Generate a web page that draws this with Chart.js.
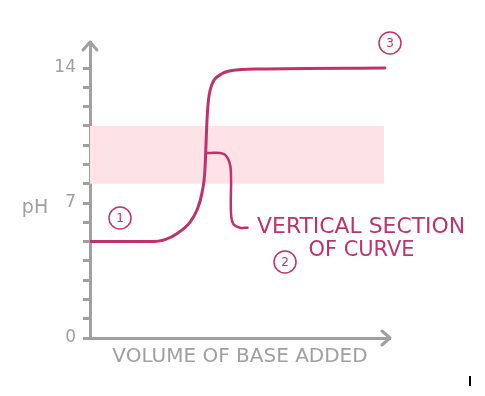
<!DOCTYPE html>
<html>
<head>
<meta charset="utf-8">
<script src="https://cdn.jsdelivr.net/npm/chart.js@4.4.1/dist/chart.umd.min.js"></script>
<style>
  html, body { margin: 0; padding: 0; background: #fff; }
  #wrap { width: 485px; height: 396px; }
</style>
</head>
<body>
<div id="wrap"><canvas id="chart" width="485" height="396"></canvas></div>
<script>
// titration curve (volume in arbitrary units 0-100, pH 0-14)
const curveVolume = [0, 20, 25, 29.3, 33.3, 35.7, 37.3, 38.3, 39, 39.5, 40.7, 43.3, 47.3, 56.7, 98.3];
const curvePH     = [5, 5, 5.1, 5.45, 6, 6.65, 7.5, 8.7, 11.3, 12.35, 13.17, 13.64, 13.87, 13.95, 14];

// indicator range band
const bandVolume = [0, 98];
const bandLowPH  = [8, 8];
const bandHighPH = [11, 11];

// bracket pointing at the vertical section
const calloutVolume = [39, 44.5, 46.5, 47, 47, 47.8, 50, 52.5];
const calloutPH     = [9.6, 9.55, 9.1, 8.4, 6.5, 5.9, 5.72, 5.72];

const yTickLabels = ['0', '7', '14'];

const CRIMSON = '#c0336a';
const AXIS    = '#a0a0a0';
const BAND    = '#fde2e7';
const FONT    = "'DejaVu Sans', sans-serif";

const toPoints = (xs, ys) => xs.map((x, i) => ({ x, y: ys[i] }));

// numbered markers, placed in data units
const markers = [
  { n: '1', x: 10,  y: 6.22 },
  { n: '2', x: 65,  y: 3.94 },
  { n: '3', x: 100, y: 15.3 },
];

const decorations = {
  id: 'decorations',
  afterDraw(chart) {
    const { ctx, chartArea: a, scales: { x, y } } = chart;
    ctx.save();

    // arrow heads on the axes
    ctx.strokeStyle = AXIS;
    ctx.lineWidth   = 3;
    ctx.lineCap     = 'round';
    ctx.lineJoin    = 'round';
    ctx.beginPath();
    ctx.moveTo(a.left - 7, a.top + 8);
    ctx.lineTo(a.left, a.top);
    ctx.lineTo(a.left + 7, a.top + 8);
    ctx.moveTo(a.right - 8, a.bottom - 7);
    ctx.lineTo(a.right, a.bottom);
    ctx.lineTo(a.right - 8, a.bottom + 7);
    ctx.stroke();

    // pH label
    ctx.fillStyle    = AXIS;
    ctx.font         = `19px ${FONT}`;
    ctx.textAlign    = 'center';
    ctx.textBaseline = 'middle';
    ctx.fillText('pH', a.left - 55, y.getPixelForValue(6.75));

    // circled numbers
    ctx.strokeStyle = CRIMSON;
    ctx.fillStyle   = CRIMSON;
    ctx.lineWidth   = 1.5;
    ctx.font        = `12px ${FONT}`;
    markers.forEach(m => {
      const px = x.getPixelForValue(m.x);
      const py = y.getPixelForValue(m.y);
      ctx.beginPath();
      ctx.arc(px, py, 11, 0, Math.PI * 2);
      ctx.stroke();
      ctx.fillText(m.n, px, py + 1);
    });

    // note text
    ctx.font      = `22px ${FONT}`;
    ctx.textAlign = 'left';
    ctx.fillText('VERTICAL SECTION', x.getPixelForValue(55.7), y.getPixelForValue(5.76), 208);
    ctx.textAlign = 'center';
    ctx.fillText('OF CURVE', x.getPixelForValue(90.5), y.getPixelForValue(4.56), 106);

    // stray mark in the corner
    ctx.fillStyle = '#000';
    ctx.fillRect(469, 376, 2, 10);

    ctx.restore();
  },
};

new Chart(document.getElementById('chart'), {
  type: 'line',
  data: {
    datasets: [
      {
        data: toPoints(bandVolume, bandLowPH),
        borderWidth: 0,
        pointRadius: 0,
        fill: false,
        order: 3,
      },
      {
        data: toPoints(bandVolume, bandHighPH),
        borderWidth: 0,
        pointRadius: 0,
        backgroundColor: BAND,
        fill: '-1',
        order: 2,
      },
      {
        data: toPoints(curveVolume, curvePH),
        borderColor: CRIMSON,
        borderWidth: 3,
        pointRadius: 0,
        cubicInterpolationMode: 'monotone',
        borderCapStyle: 'round',
        fill: false,
        order: 1,
      },
      {
        data: toPoints(calloutVolume, calloutPH),
        borderColor: CRIMSON,
        borderWidth: 2.5,
        pointRadius: 0,
        tension: 0.4,
        borderCapStyle: 'round',
        fill: false,
        order: 0,
      },
    ],
  },
  options: {
    responsive: false,
    animation:  false,
    layout: { padding: { top: 42, right: 95, left: 0, bottom: 0 } },
    plugins: {
      legend:  { display: false },
      tooltip: { enabled: false },
      filler:  { drawTime: 'beforeDatasetsDraw' },
    },
    scales: {
      x: {
        type: 'linear',
        min: 0,
        max: 100,
        ticks:  { display: false },
        grid:   { display: false },
        border: { display: true, color: AXIS, width: 3 },
        title: {
          display: true,
          text:    'VOLUME OF BASE ADDED',
          color:   AXIS,
          font:    { family: FONT, size: 20 },
          padding: { top: 0, bottom: 27 },
        },
        afterFit: s => { s.height = 58; },
      },
      y: {
        min: 0,
        max: 15.35,
        ticks: {
          stepSize: 1,
          autoSkip: false,
          color:    AXIS,
          font:     { family: FONT, size: 17 },
          padding:  7,
          callback: v => (yTickLabels.includes(String(v)) ? String(v) : ''),
        },
        grid: {
          drawOnChartArea: false,
          drawTicks:       true,
          tickLength:      7,
          tickWidth:       3,
          tickColor:       AXIS,
        },
        border: { display: true, color: AXIS, width: 3 },
        afterBuildTicks: s => { s.ticks = s.ticks.filter(t => t.value <= 14); },
        afterFit: s => { s.width = 90; },
      },
    },
  },
  plugins: [decorations],
});
</script>
</body>
</html>
